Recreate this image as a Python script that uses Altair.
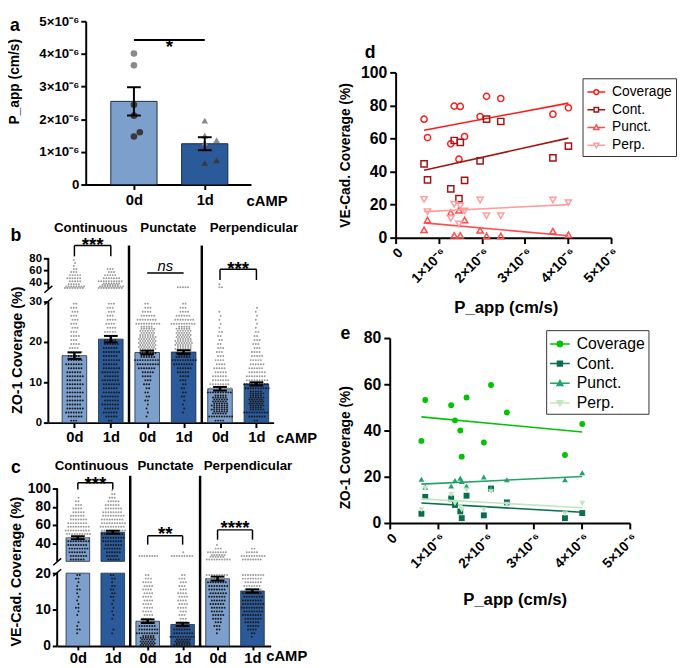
import altair as alt
import numpy as np
import pandas as pd

FONT = "Liberation Sans"
BAR_0D, BAR_1D = "#7c9fcc", "#2b5a9a"
BAR_EDGE = "#1e2c40"
DOT_ABOVE, DOT_INSIDE = "#9b9b9b", "#1c1c1c"

# ---------------- data ----------------
DAYS = ["0d", "1d"]
A_0D = [4.01e-6, 3.65e-6, 2.44e-6, 2.11e-6, 1.60e-6, 1.47e-6]
A_1D = [1.96e-6, 1.50e-6, 1.36e-6, 1.28e-6, 0.74e-6, 0.66e-6]
A_TICKS = [0, 1e-6, 2e-6, 3e-6, 4e-6, 5e-6]

GROUPS = ["Continuous", "Punctate", "Perpendicular"]

# panel b (ZO-1): bar means / SEM, dot counts per 1-unit bin (0-30) and per 5-unit bin (30-80)
B_MEANS = [16.6, 20.7, 17.4, 17.5, 8.4, 9.6]
B_SEMS = [0.8, 0.8, 0.45, 0.45, 0.45, 0.4]
B_SIG = ["***", "ns", "***"]
B_TICKS = [0, 10, 20, 30, 40, 60, 80]
B_LOWER = [
    [3, 6, 7, 7, 6, 7, 6, 7, 6, 7, 6, 7, 6, 6, 7, 6, 5, 6, 4, 4, 3, 4, 3, 3, 3, 3, 3, 3, 3, 2],
    [2, 5, 6, 6, 7, 6, 7, 7, 6, 7, 7, 6, 7, 7, 6, 7, 6, 7, 6, 6, 5, 5, 5, 4, 4, 4, 3, 3, 3, 3],
    [0, 1, 1, 1, 1, 2, 2, 2, 2, 3, 3, 4, 5, 7, 9, 10, 11, 13, 14, 14, 14, 13, 12, 11, 10, 8, 6, 4, 3, 2],
    [0, 0, 1, 1, 1, 1, 2, 2, 2, 2, 3, 4, 5, 6, 8, 10, 11, 12, 13, 14, 13, 12, 12, 11, 10, 8, 6, 4, 3, 2],
    [4, 10, 12, 13, 13, 12, 11, 10, 9, 8, 7, 6, 5, 5, 4, 4, 3, 3, 3, 2, 2, 2, 2, 1, 1, 1, 1, 1, 0, 0],
    [2, 7, 10, 11, 12, 12, 11, 11, 10, 10, 9, 8, 7, 6, 6, 5, 5, 4, 3, 3, 3, 2, 2, 1, 1, 1, 1, 1, 1, 0],
]
B_UPPER = [
    [16, 5, 5, 6, 5, 3, 2, 1, 1, 1],
    [20, 14, 10, 7, 5, 3, 3, 0, 0, 0],
    [0, 0, 0, 0, 0, 0, 0, 0, 0, 0],
    [5, 0, 0, 0, 0, 0, 0, 0, 0, 0],
    [2, 1, 0, 0, 0, 0, 0, 0, 0, 0],
    [0, 0, 0, 0, 0, 0, 0, 0, 0, 0],
]

# panel c (VE-Cad.): dot counts per 1-unit bin (0-20) and per 4-unit bin (20-100)
C_MEANS = [46.0, 52.0, 6.8, 5.9, 18.5, 15.1]
C_SEMS = [1.6, 1.6, 0.5, 0.45, 0.55, 0.45]
C_SIG = ["***", "**", "****"]
C_TICKS = [0, 10, 20, 40, 60, 80, 100]
C_LOWER = [
    [0, 0, 0, 1, 2, 1, 1, 0, 1, 1, 2, 1, 1, 1, 1, 2, 1, 1, 2, 2],
    [0, 0, 0, 1, 1, 0, 0, 1, 1, 1, 1, 1, 1, 2, 2, 2, 2, 1, 2, 2],
    [12, 12, 11, 9, 8, 7, 5, 4, 4, 4, 4, 4, 4, 4, 4, 4, 4, 4, 3, 2],
    [13, 12, 10, 8, 7, 5, 4, 3, 3, 3, 4, 4, 4, 4, 4, 3, 3, 3, 3, 2],
    [0, 0, 0, 1, 2, 3, 3, 4, 5, 5, 6, 6, 6, 7, 7, 7, 8, 8, 9, 9],
    [0, 0, 1, 2, 4, 5, 6, 7, 8, 8, 9, 9, 8, 8, 8, 7, 7, 7, 8, 9],
]
C_UPPER = [
    [6, 7, 7, 8, 8, 9, 9, 10, 10, 9, 8, 7, 6, 5, 4, 3, 2, 1, 0, 0],
    [5, 5, 6, 7, 7, 8, 9, 9, 10, 10, 10, 9, 9, 8, 7, 6, 5, 3, 2, 1],
    [0, 8, 0, 0, 0, 0, 0, 0, 0, 0, 0, 0, 0, 0, 0, 0, 0, 0, 0, 0],
    [0, 9, 1, 0, 0, 0, 0, 0, 0, 0, 0, 0, 0, 0, 0, 0, 0, 0, 0, 0],
    [10, 12, 8, 3, 1, 0, 0, 0, 0, 0, 0, 0, 0, 0, 0, 0, 0, 0, 0, 0],
    [8, 10, 5, 2, 0, 0, 0, 0, 0, 0, 0, 0, 0, 0, 0, 0, 0, 0, 0, 0],
]

# panels d, e: per-sample P_app and coverages
P_APP = [0.66e-6, 0.74e-6, 1.28e-6, 1.36e-6, 1.47e-6, 1.50e-6,
         1.60e-6, 1.96e-6, 2.11e-6, 2.44e-6, 3.65e-6, 4.01e-6]
SERIES = ["Coverage", "Cont.", "Punct.", "Perp."]
D_VALUES = [
    [71.7, 60.6, 56.8, 79.6, 47.5, 79.4, 61.2, 73.3, 85.5, 84.2, 74.7, 78.6],
    [44.6, 35.0, 29.5, 58.8, 23.6, 57.6, 34.7, 46.5, 71.7, 70.3, 48.3, 55.4],
    [4.8, 10.7, 15.2, 1.4, 16.6, 1.4, 10.7, 4.4, 1.0, 1.0, 4.0, 1.8],
    [23.2, 15.8, 11.7, 20.2, 8.3, 19.2, 16.2, 22.8, 13.3, 13.3, 22.8, 21.2],
]
E_VALUES = [
    [35.5, 53.2, 50.9, 44.4, 40.0, 28.7, 54.3, 34.8, 59.7, 47.8, 29.4, 42.8],
    [4.0, 11.3, 10.6, 7.8, 5.0, 2.1, 11.8, 3.3, 14.9, 8.9, 2.1, 4.3],
    [18.9, 15.5, 16.0, 18.4, 19.4, 18.0, 16.0, 19.9, 15.0, 18.7, 18.7, 21.7],
    [5.7, 14.9, 12.3, 8.5, 7.0, 5.7, 14.2, 5.7, 13.5, 8.1, 4.0, 8.5],
]
D_COLORS = ["#ff1a1a", "#a31515", "#ff4c4c", "#ff9c9c"]
E_COLORS = ["#00c400", "#0a6e4e", "#22a36a", "#bfe8bf"]
PT_SHAPES = ["circle", "square", "triangle-up", "triangle-down"]
LEG_PATHS = [
    "M-1,0H-0.27M0.27,0H1M-0.27,0A0.27,0.27,0,1,1,0.27,0A0.27,0.27,0,1,1,-0.27,0Z",
    "M-1,0H-0.25M0.25,0H1M-0.25,-0.25H0.25V0.25H-0.25Z",
    "M-1,0H-0.18M0.18,0H1M0,-0.29L0.29,0.22H-0.29Z",
    "M-1,0H-0.18M0.18,0H1M0,0.29L0.29,-0.22H-0.29Z",
]
X_TICKS = [0, 1e-6, 2e-6, 3e-6, 4e-6, 5e-6]
SCI_EXPR = "datum.value == 0 ? '0' : round(datum.value * 1e6) + '×10⁻⁶'"


# ---------------- helpers ----------------
def text_layer(txt, x, y, size, weight="bold", style="normal", baseline="middle", X=None, align="center"):
    df = pd.DataFrame({"t": [txt], "x": [x]})
    enc = {"text": "t:N", "y": alt.value(y), "x": X("x") if X else alt.value(x)}
    return alt.Chart(df).mark_text(font=FONT, fontSize=size, fontWeight=weight, fontStyle=style,
                                   align=align, baseline=baseline, color="black").encode(**enc)


def hrule(x1, x2, y, X, w=1.5):
    df = pd.DataFrame({"x1": [x1], "x2": [x2]})
    return alt.Chart(df).mark_rule(color="black", strokeWidth=w).encode(x=X("x1"), x2="x2", y=alt.value(y))


def vrule(xs, y1, y2, X, w=1.5):
    df = pd.DataFrame({"x": xs})
    return alt.Chart(df).mark_rule(color="black", strokeWidth=w).encode(x=X("x"), y=alt.value(y1), y2=alt.value(y2))


def px_rule(x1, x2, y1, y2, w=1.5, opacity=1.0):
    df = pd.DataFrame({"k": [0]})
    return alt.Chart(df).mark_rule(color="black", strokeWidth=w, opacity=opacity).encode(
        x=alt.value(x1), x2=alt.value(x2), y=alt.value(y1), y2=alt.value(y2))


def anchor(x, y):
    # invisible layout anchor that fixes the outer extent of a column
    return px_rule(x, x + 1, y, y + 1, 1, 0)


def swarm_offsets(vals, px_per_v, diam):
    offs = [0.0] * len(vals)
    placed = []
    for i in sorted(range(len(vals)), key=lambda k: vals[k]):
        y = vals[i] * px_per_v
        xo = 0.0
        for c in (0, 1, -1, 2, -2, 3, -3):
            xo = c * diam * 0.8
            if all((xo - px) ** 2 + (y - py) ** 2 >= (diam * 0.95) ** 2 for px, py in placed):
                break
        placed.append((xo, y))
        offs[i] = xo
    return offs


def dot_rows(lower, upper, brk, up_w, means, pitch):
    recs = []
    for g in range(6):
        row = 0
        for counts, lo0, bw in ((lower[g], 0.0, 1.0), (upper[g], brk, up_w)):
            for k, n in enumerate(counts):
                if n <= 0:
                    continue
                lo = lo0 + k * bw
                nsub = int(np.ceil(n / 10))
                for s in range(nsub):
                    m = n // nsub + (1 if s < n % nsub else 0)
                    yv = lo + (s + 0.5) * bw / nsub
                    stagger = 0.65 if row % 2 else -0.65
                    row += 1
                    for j in range(m):
                        recs.append({"x": g + 1 + ((j - (m - 1) / 2) * 2.6 + stagger) / pitch, "v": yv,
                                     "c": "in" if yv < means[g] else "out"})
    return pd.DataFrame(recs)


# ---------------- panel a ----------------
def panel_a():
    W, H = 168, 166
    xs = alt.Scale(domain=[0.3194, 2.653], nice=False, zero=False)
    ys = alt.Scale(domain=[0, 5e-6], nice=False)
    xax = alt.Axis(values=[1, 2], labelExpr="datum.value == 1 ? '0d' : '1d'", labelFontSize=15,
                   labelPadding=3, tickSize=5, tickWidth=2, domainWidth=2, title="cAMP", titleFontSize=15,
                   titleX=163, titleY=16, titleAlign="left", titleBaseline="middle")
    yax = alt.Axis(values=A_TICKS, labelExpr=SCI_EXPR, labelFontSize=13.5, tickSize=5, tickWidth=2,
                   domainWidth=2, labelPadding=2, title="P_app (cm/s)", titleFontSize=14,
                   titleX=-72, titleY=61, titleBaseline="middle", titleAngle=-90)
    X = lambda f: alt.X(f, type="quantitative", scale=xs, axis=xax)
    Y = lambda f: alt.Y(f, type="quantitative", scale=ys, axis=yax)

    rows, bars, errs = [], [], []
    hw, cw = 23.5 / 72, 7 / 72
    for gi, vals in enumerate([A_0D, A_1D]):
        pos = gi + 1
        m = float(np.mean(vals))
        sem = float(np.std(vals, ddof=1) / np.sqrt(len(vals)))
        bars.append({"x1": pos - hw, "x2": pos + hw, "y1": 0, "y2": m, "day": DAYS[gi]})
        errs.append({"x": pos, "lo": m - sem, "hi": m + sem, "c1": pos - cw, "c2": pos + cw})
        offs = swarm_offsets(vals, H / 5e-6, 7.5)
        for v, o in zip(vals, offs):
            rows.append({"x": pos + o / 72, "v": v, "day": DAYS[gi], "above": v > m})
    pts = pd.DataFrame(rows)
    bar_l = alt.Chart(pd.DataFrame(bars)).mark_bar(stroke=BAR_EDGE, strokeWidth=1).encode(
        x=X("x1"), x2="x2", y=Y("y1"), y2="y2",
        color=alt.Color("day:N", scale=alt.Scale(domain=DAYS, range=[BAR_0D, BAR_1D]), legend=None))
    layers = [bar_l]
    for day, shape in (("0d", "circle"), ("1d", "triangle-up")):
        for above, col in ((True, "#8a8a8a"), (False, "#3a3a3a")):
            sub = pts[(pts.day == day) & (pts.above == above)]
            if len(sub):
                layers.append(alt.Chart(sub).mark_point(shape=shape, filled=True, size=45, opacity=1,
                                                        color=col).encode(x=X("x"), y=Y("v")))
    e = pd.DataFrame(errs)
    layers += [
        alt.Chart(e).mark_rule(color="black", strokeWidth=2).encode(x=X("x"), y=Y("lo"), y2="hi"),
        alt.Chart(e).mark_rule(color="black", strokeWidth=2).encode(x=X("c1"), x2="c2", y=Y("hi")),
        alt.Chart(e).mark_rule(color="black", strokeWidth=2).encode(x=X("c1"), x2="c2", y=Y("lo")),
        hrule(1, 2, 19, X, 2),
        text_layer("*", 1.5, 32, 19, baseline="alphabetic", X=X),
        text_layer("a", -72, 5, 18),
        anchor(-79, -8),
    ]
    return alt.layer(*layers).properties(width=W, height=H)


# ---------------- panels b, c ----------------
def bar_panel(cfg):
    c1, pitch = cfg["c1"], cfg["pitch"]
    r0, r1 = cfg["xr"]
    xdom = [1 + (r0 - c1) / pitch, 1 + (r1 - c1) / pitch]
    brk, top = cfg["brk"], cfg["top"]
    xs = alt.Scale(domain=xdom, range=[r0, r1], nice=False, zero=False)
    ys = alt.Scale(domain=[0, brk, brk + 0.001, top], range=cfg["yr"], nice=False, zero=False)
    xax = alt.Axis(values=[1, 2, 3, 4, 5, 6], labelExpr="datum.value % 2 == 1 ? '0d' : '1d'",
                   labelFontSize=15, labelPadding=cfg["lab_pad"], tickSize=cfg["xtick"], tickWidth=2,
                   domainWidth=2, title="cAMP", titleFontSize=15, titleX=cfg["camp"][0],
                   titleY=cfg["camp"][1], titleAlign="left", titleBaseline="middle")
    yax = alt.Axis(values=cfg["yticks"], domain=False, offset=cfg["yoff"], labelFontSize=cfg["ylab"],
                   tickSize=5, tickWidth=2, labelPadding=2, title=cfg["ytitle"], titleFontSize=14.5,
                   titleX=cfg["yt"][0], titleY=cfg["yt"][1], titleBaseline="middle", titleAngle=-90)
    X = lambda f: alt.X(f, type="quantitative", scale=xs, axis=xax)
    Y = lambda f: alt.Y(f, type="quantitative", scale=ys, axis=yax)
    hw = cfg["bar_w"] / 2 / pitch
    cw = 7 / pitch

    bars, errs = [], []
    for g, m in enumerate(cfg["means"]):
        pos = g + 1
        pieces = [(0, m)] if m <= brk else [(0, brk), (brk + 0.001, m)]
        for y1, y2 in pieces:
            bars.append({"x1": pos - hw, "x2": pos + hw, "y1": y1, "y2": y2, "day": DAYS[g % 2]})
        s = cfg["sems"][g]
        errs.append({"x": pos, "lo": m - s, "hi": m + s, "c1": pos - cw, "c2": pos + cw})
    pts = dot_rows(cfg["lower"], cfg["upper"], brk, cfg["up_w"], cfg["means"], pitch)
    e = pd.DataFrame(errs)
    layers = [
        alt.Chart(pd.DataFrame(bars)).mark_bar(stroke=BAR_EDGE, strokeWidth=0.8).encode(
            x=X("x1"), x2="x2", y=Y("y1"), y2="y2",
            color=alt.Color("day:N", scale=alt.Scale(domain=DAYS, range=[BAR_0D, BAR_1D]), legend=None)),
        alt.Chart(pts[pts.c == "out"]).mark_circle(size=4, opacity=1, color=DOT_ABOVE).encode(x=X("x"), y=Y("v")),
        alt.Chart(pts[pts.c == "in"]).mark_circle(size=4, opacity=1, color=DOT_INSIDE).encode(x=X("x"), y=Y("v")),
        alt.Chart(e).mark_rule(color="black", strokeWidth=2.5).encode(x=X("x"), y=Y("lo"), y2="hi"),
        alt.Chart(e).mark_rule(color="black", strokeWidth=2).encode(x=X("c1"), x2="c2", y=Y("hi")),
        alt.Chart(e).mark_rule(color="black", strokeWidth=2).encode(x=X("c1"), x2="c2", y=Y("lo")),
    ]
    # broken y-axis line
    seg = pd.DataFrame({"x": [xdom[0], xdom[0]], "y1": [0, brk + 0.001], "y2": [brk, top]})
    layers.append(alt.Chart(seg).mark_rule(color="black", strokeWidth=2).encode(x=X("x"), y=Y("y1"), y2="y2"))
    yl, yu = cfg["yr"][1], cfg["yr"][2]
    layers.append(px_rule(r0 - 4, r0 + 4, yl + 3, yl - 4, 1.5))
    layers.append(px_rule(r0 - 4, r0 + 4, yu + 4, yu - 3, 1.5))
    # dividers
    layers.append(vrule([2.5, 4.5], cfg["div_top"], cfg["yr"][0], X, 2.5))
    # group titles
    tdf = pd.DataFrame({"t": GROUPS, "x": cfg["title_x"]})
    layers.append(alt.Chart(tdf).mark_text(font=FONT, fontSize=13.5, fontWeight="bold", color="black",
                                           baseline="middle").encode(x=X("x"), y=alt.value(cfg["title_y"]), text="t:N"))
    # significance
    for g, (lab, geo) in enumerate(zip(cfg["sig"], cfg["sig_geo"])):
        a, b = 2 * g + 1, 2 * g + 2
        if lab == "ns":
            layers.append(hrule(a, b, geo[0], X, 1.5))
            layers.append(text_layer("ns", (a + b) / 2, geo[2], 15, weight="normal", style="italic",
                                     baseline="alphabetic", X=X))
        else:
            layers.append(hrule(a, b, geo[0], X, 1.5))
            layers.append(vrule([a, b], geo[0], geo[1], X, 1.5))
            layers.append(text_layer(lab, (a + b) / 2, geo[2], 19, baseline="alphabetic", X=X))
    layers.append(text_layer(cfg["letter"], cfg["letter_xy"][0], cfg["letter_xy"][1], 18))
    if cfg.get("anchor"):
        layers.append(anchor(*cfg["anchor"]))
    return alt.layer(*layers).properties(width=cfg["w"], height=cfg["h"])


B_CFG = dict(c1=-11.5, pitch=37.0, xr=(-38, 191), brk=30, top=80, up_w=5, yr=[167, 44, 31, 0],
             w=191, h=167, means=B_MEANS, sems=B_SEMS, lower=B_LOWER, upper=B_UPPER, yticks=B_TICKS,
             ylab=11.5, yoff=38, ytitle="ZO-1 Coverage (%)", yt=(-31, 93), camp=(193, 15), lab_pad=2,
             xtick=5, bar_w=25, div_top=-13, title_y=-31, title_x=[1.45, 3.58, 5.93], sig=B_SIG,
             sig_geo=[(-13, -2, -7), (15, 15, 13), (11, 22, 17)], letter="b", letter_xy=(-71, -23),
             anchor=(240, 0))
C_CFG = dict(c1=-8.0, pitch=35.5, xr=(-29, 188), brk=20, top=100, up_w=4, yr=[152, 78, 66, -8],
             w=188, h=152, means=C_MEANS, sems=C_SEMS, lower=C_LOWER, upper=C_UPPER, yticks=C_TICKS,
             ylab=14, yoff=29, ytitle="VE-Cad. Coverage (%)", yt=(-41, 76), camp=(183, 10), lab_pad=1,
             xtick=4, bar_w=24, div_top=-21, title_y=-31, title_x=[1.39, 3.51, 5.87], sig=C_SIG,
             sig_geo=[(-14, -7, -7), (40, 49, 44.5), (34, 44, 38.5)], letter="c", letter_xy=(-71, -29))


# ---------------- panels d, e ----------------
def scatter_panel(cfg):
    xs = alt.Scale(domain=[0, 5e-6], range=cfg["xr"], nice=False, zero=False)
    ys = alt.Scale(domain=[0, cfg["ytop"]], range=cfg["yr"], nice=False, zero=False)
    xax = alt.Axis(values=X_TICKS, labelExpr=SCI_EXPR, labelAngle=-45, labelFontSize=14, tickSize=6,
                   tickWidth=2, domainWidth=2, labelPadding=2, title="P_app (cm/s)", titleFontSize=17,
                   titleX=cfg["xt"][0], titleY=cfg["xt"][1], titleAlign="center", titleBaseline="middle")
    yax = alt.Axis(values=cfg["yticks"], offset=cfg["yoff"], labelFontSize=16, tickSize=6, tickWidth=2,
                   domainWidth=2, labelPadding=3, title=cfg["ytitle"], titleFontSize=14,
                   titleX=cfg["yt"][0], titleY=cfg["yt"][1], titleBaseline="middle", titleAngle=-90)
    X = lambda f: alt.X(f, type="quantitative", scale=xs, axis=xax)
    Y = lambda f: alt.Y(f, type="quantitative", scale=ys, axis=yax)
    layers = []
    for name, vals, col, shp in zip(SERIES, cfg["values"], cfg["colors"], PT_SHAPES):
        df = pd.DataFrame({"x": P_APP, "y": vals})
        layers.append(alt.Chart(df).transform_regression("x", "y").mark_line(color=col, strokeWidth=1.6)
                      .encode(x=X("x"), y=Y("y")))
        layers.append(alt.Chart(df).mark_point(shape=shp, filled=cfg["filled"], color=col, size=cfg["size"],
                                               strokeWidth=1.5, opacity=1).encode(x=X("x"), y=Y("y")))
    leg = alt.Legend(title=None, orient="none", legendX=cfg["leg"][0], legendY=cfg["leg"][1],
                     strokeColor="#333333", fillColor="white", padding=cfg["leg_pad"], symbolSize=cfg["sym"],
                     symbolStrokeWidth=1.5, labelFont=FONT, labelFontSize=cfg["leg_fs"], labelColor="black",
                     rowPadding=cfg["leg_row"], labelOffset=6)
    cs = alt.Scale(domain=SERIES, range=cfg["colors"])
    enc = {"shape": alt.Shape("series:N", scale=alt.Scale(domain=SERIES, range=LEG_PATHS), legend=leg)}
    if cfg["filled"]:
        enc["fill"] = alt.Fill("series:N", scale=cs, legend=leg)
        enc["stroke"] = alt.Stroke("series:N", scale=cs, legend=leg)
    else:
        enc["color"] = alt.Color("series:N", scale=cs, legend=leg)
    layers.append(alt.Chart(pd.DataFrame({"series": SERIES})).transform_filter("false")
                  .mark_point(filled=cfg["filled"], strokeWidth=1.5, opacity=1).encode(**enc))
    layers.append(text_layer(cfg["letter"], cfg["letter_xy"][0], cfg["letter_xy"][1], 18))
    if cfg.get("anchor"):
        layers.append(anchor(*cfg["anchor"]))
    return alt.layer(*layers).properties(width=cfg["w"], height=cfg["h"])


D_CFG = dict(xr=[0, 219], yr=[220, 52], ytop=100, yticks=[0, 20, 40, 60, 80, 100], w=219, h=220,
             values=D_VALUES, colors=D_COLORS, filled=False, size=40, yoff=0,
             ytitle="VE-Cad. Coverage (%)", yt=(-51, 136), xt=(112, 71), leg=(190, 58), leg_fs=14,
             leg_row=1, leg_pad=4, sym=324, letter="d", letter_xy=(-26, 32), anchor=(-71, 60))
E_CFG = dict(xr=[-6, 238], yr=[188, 0], ytop=80, yticks=[0, 20, 40, 60, 80], w=238, h=188,
             values=E_VALUES, colors=E_COLORS, filled=True, size=36, yoff=6,
             ytitle="ZO-1 Coverage (%)", yt=(-45, 111), xt=(121, 78), leg=(153, -8), leg_fs=16,
             leg_row=1, leg_pad=3, sym=400, letter="e", letter_xy=(-51, -4))

IND = dict(color="independent", fill="independent", stroke="independent", shape="independent")

left = alt.vconcat(panel_a(), bar_panel(B_CFG), bar_panel(C_CFG), spacing=75, bounds="flush") \
    .resolve_scale(**IND).resolve_legend(**IND)
right = alt.vconcat(scatter_panel(D_CFG), scatter_panel(E_CFG), spacing=102, bounds="flush") \
    .resolve_scale(**IND).resolve_legend(**IND)

chart = (
    alt.hconcat(left, right, spacing=3)
    .resolve_scale(**IND).resolve_legend(**IND)
    .properties(padding=0)
    .configure_view(stroke=None)
    .configure_axis(grid=False, labelFont=FONT, titleFont=FONT, labelFontWeight="bold",
                    titleFontWeight="bold", labelColor="black", titleColor="black", domainColor="black",
                    tickColor="black", labelFlush=False, labelOverlap=False)
    .configure_text(font=FONT)
)

chart.save("out.html", embed_options={"renderer": "svg", "actions": False})
